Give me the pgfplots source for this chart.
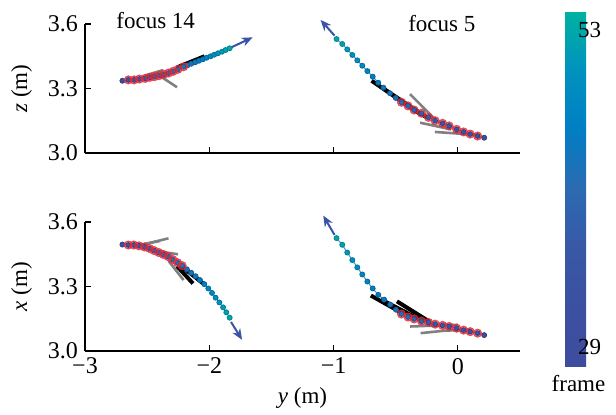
\documentclass[border=0pt]{standalone}
\usepackage{fontspec}
\setmainfont{Liberation Serif}
\usepackage{pgfplots}
\pgfplotsset{compat=1.18}
\usepackage{pgfplotstable}
\usetikzlibrary{arrows.meta,calc}

\definecolor{arrowblue}{RGB}{58,82,168}
\definecolor{linkblue}{RGB}{80,145,205}
\definecolor{ringred}{RGB}{232,40,50}
\definecolor{fitgray}{RGB}{128,128,128}

\pgfplotsset{
  colormap={frames}{rgb255=(62,76,158) rgb255=(60,80,161) rgb255=(56,88,166) rgb255=(44,106,178) rgb255=(0,126,196) rgb255=(0,146,190) rgb255=(0,178,160)},
  panel/.style={scale only axis, width=217.5pt, height=64.5pt,
    xmin=-3, xmax=0.5, ymin=3, ymax=3.6,
    axis lines=left, axis line style={-, line width=0.6pt},
    tick align=inside, major tick length=3pt, tick style={line width=0.6pt, black},
    xtick={-3,-2,-1,0}, ytick={3,3.3,3.6}, yticklabels={3.0,3.3,3.6},
    clip=false, colormap name=frames, point meta min=27.6, point meta max=54.4,
    ticklabel style={font=\fontsize{12}{14}\selectfont},
    label style={font=\fontsize{11.5}{13}\selectfont},
    ylabel style={at={(axis description cs:-0.146,0.5)}, anchor=center}},
  traj/.style={line width=0.5pt, linkblue, no marks},
  dots/.style={scatter, only marks, mark=*, mark size=1.25pt, scatter src=explicit},
  rings/.style={only marks, mark=o, mark size=1.9pt, ringred, line width=0.7pt, opacity=0.85, restrict expr to domain={\coordindex}{1:12}},
  grayfit/.style={fitgray, line width=1.3pt, no marks},
  blackfit/.style={black, line width=2pt, no marks},
  dirarrow/.style={arrowblue, line width=1pt, no marks, -{Stealth[length=5.5pt,width=4.5pt]}},
}

% focus 14, y-z
\pgfplotstableread{
f y z
29 -2.699 3.336
30 -2.651 3.340
31 -2.605 3.340
32 -2.562 3.344
33 -2.516 3.347
34 -2.478 3.352
35 -2.441 3.355
36 -2.403 3.360
37 -2.365 3.366
38 -2.328 3.372
39 -2.290 3.380
40 -2.252 3.389
41 -2.207 3.401
42 -2.175 3.408
43 -2.145 3.415
44 -2.113 3.422
45 -2.083 3.429
46 -2.051 3.436
47 -2.022 3.443
48 -1.989 3.450
49 -1.960 3.457
50 -1.930 3.464
51 -1.898 3.471
52 -1.869 3.479
53 -1.836 3.487
}\TL

% focus 5, y-z
\pgfplotstableread{
f y z
29 0.212 3.071
30 0.159 3.079
31 0.099 3.088
32 0.046 3.098
33 -0.010 3.110
34 -0.070 3.126
35 -0.123 3.138
36 -0.183 3.150
37 -0.236 3.166
38 -0.293 3.185
39 -0.352 3.200
40 -0.401 3.219
41 -0.454 3.236
42 -0.500 3.256
43 -0.546 3.278
44 -0.599 3.304
45 -0.640 3.327
46 -0.685 3.355
47 -0.728 3.381
48 -0.769 3.406
49 -0.809 3.431
50 -0.849 3.456
51 -0.890 3.482
52 -0.930 3.507
53 -0.976 3.530
}\TR

% focus 14, y-x
\pgfplotstableread{
f y x
29 -2.699 3.495
30 -2.651 3.493
31 -2.607 3.493
32 -2.565 3.489
33 -2.522 3.484
34 -2.482 3.477
35 -2.444 3.467
36 -2.406 3.458
37 -2.369 3.449
38 -2.331 3.439
39 -2.293 3.425
40 -2.256 3.411
41 -2.218 3.397
42 -2.180 3.380
43 -2.145 3.364
44 -2.110 3.348
45 -2.075 3.330
46 -2.040 3.311
47 -2.008 3.291
48 -1.978 3.270
49 -1.949 3.248
50 -1.919 3.226
51 -1.889 3.203
52 -1.863 3.180
53 -1.836 3.155
}\BL

% focus 5, y-x
\pgfplotstableread{
f y x
29 0.212 3.074
30 0.159 3.083
31 0.099 3.090
32 0.046 3.097
33 -0.010 3.106
34 -0.070 3.114
35 -0.123 3.119
36 -0.183 3.125
37 -0.236 3.133
38 -0.293 3.139
39 -0.352 3.149
40 -0.401 3.158
41 -0.454 3.172
42 -0.498 3.192
43 -0.544 3.216
44 -0.593 3.239
45 -0.640 3.261
46 -0.685 3.291
47 -0.728 3.323
48 -0.769 3.356
49 -0.809 3.389
50 -0.849 3.423
51 -0.890 3.458
52 -0.930 3.494
53 -0.976 3.525
}\BR

\begin{document}
\begin{tikzpicture}
\useasboundingbox (0,0) rectangle (308pt,207pt);

% ---------- top panel: z vs y ----------
\begin{axis}[panel, at={(42.5pt,130.5pt)}, anchor=south west,
  xticklabels={}, ylabel={\textit{z} (m)}]
  \addplot[traj] table[x=y,y=z] {\TL};
  \addplot[traj] table[x=y,y=z] {\TR};
  \addplot[dots] table[x=y,y=z,meta=f] {\TL};
  \addplot[dots] table[x=y,y=z,meta=f] {\TR};
  \addplot[rings] table[x=y,y=z] {\TL};
  \addplot[rings] table[x=y,y=z] {\TR};
  % fitted directions
  \addplot[grayfit] coordinates {(-2.435,3.373) (-2.26,3.306)};
  \addplot[grayfit] coordinates {(-2.52,3.360) (-2.37,3.386)};
  \addplot[grayfit] coordinates {(-0.385,3.274) (-0.177,3.153)};
  \addplot[grayfit] coordinates {(-0.304,3.141) (-0.056,3.110)};
  \addplot[grayfit] coordinates {(-0.185,3.098) (0.159,3.084)};
  \addplot[blackfit] coordinates {(-2.26,3.398) (-2.038,3.450)};
  \addplot[blackfit] coordinates {(-2.24,3.401) (-2.10,3.434)};
  \addplot[blackfit] coordinates {(-0.694,3.336) (-0.30,3.180)};
  \addplot[blackfit] coordinates {(-0.62,3.308) (-0.25,3.165)};
  % arrows
  \addplot[dirarrow] coordinates {(-1.82,3.492) (-1.651,3.538)};
  \addplot[dirarrow] coordinates {(-0.992,3.546) (-1.105,3.619)};
  \node[anchor=base, font=\fontsize{11.5}{13}\selectfont] at (axis cs:-2.431,3.581) {focus 14};
  \node[anchor=base, font=\fontsize{11.5}{13}\selectfont] at (axis cs:-0.129,3.567) {focus 5};
\end{axis}

% ---------- bottom panel: x vs y ----------
\begin{axis}[panel, at={(42.5pt,31.5pt)}, anchor=south west,
  xticklabels={−3,−2,−1,0}, ylabel={\textit{x} (m)},
  xlabel={\textit{y} (m)},
  xlabel style={at={(axis description cs:0.5,-0.364)}, anchor=center},
  colorbar,
  colorbar style={at={($(parent axis.south east)+(14pt,-7.5pt)$)}, anchor=south west,
    scale only axis, width=10.5pt, height=177.5pt,
    ytick={29,53}, yticklabels={29,53}, yticklabel pos=right,
    major tick length=0pt, tick style={draw=none}, axis line style={draw=none},
    yticklabel style={font=\fontsize{11.5}{13}\selectfont, xshift=-7.5pt}}]
  \addplot[traj] table[x=y,y=x] {\BL};
  \addplot[traj] table[x=y,y=x] {\BR};
  \addplot[dots] table[x=y,y=x,meta=f] {\BL};
  \addplot[dots] table[x=y,y=x,meta=f] {\BR};
  \addplot[rings] table[x=y,y=x] {\BL};
  \addplot[rings] table[x=y,y=x] {\BR};
  \addplot[grayfit] coordinates {(-2.597,3.489) (-2.395,3.512)};
  \addplot[grayfit] coordinates {(-2.556,3.492) (-2.328,3.524)};
  \addplot[grayfit] coordinates {(-2.382,3.461) (-2.252,3.450)};
  \addplot[grayfit] coordinates {(-2.328,3.419) (-2.207,3.330)};
  \addplot[grayfit] coordinates {(-0.384,3.114) (-0.002,3.122)};
  \addplot[grayfit] coordinates {(-0.30,3.083) (-0.10,3.095) (0.105,3.098)};
  \addplot[blackfit] coordinates {(-2.260,3.395) (-2.131,3.314)};
  \addplot[blackfit] coordinates {(-2.220,3.392) (-2.038,3.309)};
  \addplot[blackfit] coordinates {(-0.70,3.258) (-0.45,3.177)};
  \addplot[blackfit] coordinates {(-0.62,3.240) (-0.30,3.145)};
  \addplot[blackfit] coordinates {(-0.49,3.231) (-0.23,3.137)};
  \addplot[dirarrow] coordinates {(-1.825,3.135) (-1.736,3.052)};
  \addplot[dirarrow] coordinates {(-0.992,3.540) (-1.083,3.630)};
\end{axis}

\node[anchor=base, font=\fontsize{11.5}{13}\selectfont] at (289.25pt,11.5pt) {frame};
\end{tikzpicture}
\end{document}
